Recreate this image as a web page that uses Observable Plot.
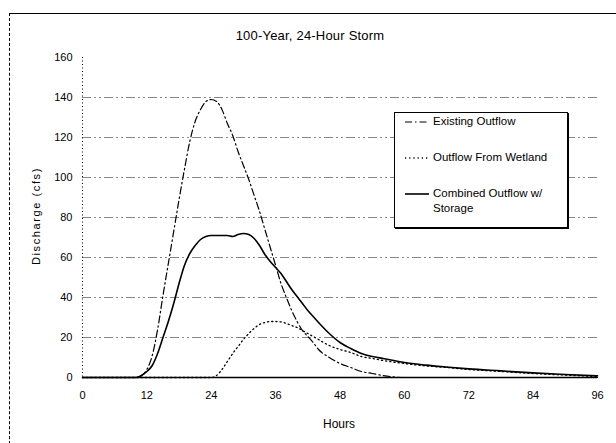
<!DOCTYPE html>
<html>
<head>
<meta charset="utf-8">
<script src="https://cdn.jsdelivr.net/npm/d3@7"></script>
<script src="https://cdn.jsdelivr.net/npm/@observablehq/plot@0.6"></script>
<style>
  html, body { margin: 0; padding: 0; background: #fff; }
  #wrap { position: relative; width: 616px; height: 443px; overflow: hidden; background: #fff;
          font-family: "Liberation Sans", Arial, sans-serif; color: #000; }
  #wrap svg.plot { position: absolute; left: 0; top: 0; }
  .abs { position: absolute; white-space: nowrap; }
</style>
</head>
<body>
<div id="wrap"></div>
<script>
// ---- data ----
const title = "100-Year, 24-Hour Storm";
const xLabel = "Hours";
const yLabel = "Discharge (cfs)";
const xTicks = [0, 12, 24, 36, 48, 60, 72, 84, 96];
const yTicks = [0, 20, 40, 60, 80, 100, 120, 140, 160];
const gridValues = [20, 40, 60, 80, 100, 120, 140];
const seriesNames = ["Existing Outflow", "Outflow From Wetland", "Combined Outflow w/ Storage"];

const hours = [0, 6, 10, 11, 12, 13, 14, 15, 16, 17, 18, 19, 20, 21, 22, 23, 24, 25, 26, 27, 28, 29, 30, 31, 32, 33, 34, 35, 36, 37, 38, 39, 40, 41, 42, 43, 44, 46, 48, 50, 52, 54, 56, 58, 60, 64, 68, 72, 78, 84, 90, 96];
const existingOutflow = [0, 0, 0, 1, 4, 11, 24, 41, 57, 73, 89, 104, 118, 128, 134, 138, 139, 138, 134, 127, 121, 113, 106, 99, 91, 83, 74, 65, 56, 47, 40, 33.5, 28, 23.5, 20.5, 17.5, 14, 10, 7, 5, 3, 2, 1, 0.3, 0, 0, 0, 0, 0, 0, 0, 0];
const wetlandOutflow = [0, 0, 0, 0, 0, 0, 0, 0, 0, 0, 0, 0, 0, 0, 0, 0, 0, 1, 4, 8, 12, 15.5, 19, 22, 24.5, 26.5, 27.5, 28, 28, 27.8, 27, 26, 25, 23.5, 22, 20.5, 19, 16, 14, 12.5, 10.5, 9.5, 8.5, 7.7, 7, 5.8, 5, 4, 3, 2, 1.2, 0.5];
const combinedOutflow = [0, 0, 0, 1, 3, 6, 12, 20, 28, 37, 47, 56, 62, 66, 69, 70.5, 71, 71, 71, 71, 70.5, 71.5, 72, 71.5, 69.5, 66, 61.5, 58, 55, 52, 48, 44, 40.5, 37, 33.5, 30.5, 27.5, 22, 17.5, 14.5, 12, 10.5, 9.5, 8.5, 7.5, 6.2, 5.2, 4.3, 3.3, 2.3, 1.5, 0.8];

// ---- build table ----
const valueArrays = [existingOutflow, wetlandOutflow, combinedOutflow];
const dashes = ["7,3,1.5,3", "1.2,3", null];
const widths = [1.2, 1.3, 1.6];
const rows = [];
seriesNames.forEach((name, i) => {
  hours.forEach((h, j) => rows.push({series: name, h, v: valueArrays[i][j]}));
});

const lineMarks = seriesNames.map((name, i) =>
  Plot.line(rows.filter(d => d.series === name), {
    x: "h", y: "v", stroke: "#000", strokeWidth: widths[i],
    strokeDasharray: dashes[i] || undefined, curve: "monotone-x"
  })
);

const chart = Plot.plot({
  width: 616, height: 443,
  marginLeft: 82, marginRight: 19, marginTop: 57, marginBottom: 66,
  style: {fontFamily: "'Liberation Sans', Arial, sans-serif", fontSize: "11px", color: "#000", background: "transparent"},
  x: {domain: [0, 96]},
  y: {domain: [0, 160]},
  marks: [
    Plot.ruleY(gridValues, {stroke: "#222", strokeWidth: 1, strokeOpacity: 0.55, strokeDasharray: "9,3,2,3,2,3"}),
    Plot.ruleX([0], {stroke: "#000", strokeWidth: 1, strokeDasharray: "1,2.5"}),
    Plot.ruleY([0], {stroke: "#000", strokeWidth: 1.4}),
    Plot.axisX({ticks: xTicks, tickSize: 0, tickPadding: 14, label: null, fontSize: 11}),
    Plot.axisY({ticks: yTicks, tickSize: 0, tickPadding: 10, label: null, fontSize: 11}),
    ...lineMarks
  ]
});

const wrap = document.getElementById("wrap");

// outer frame (top and left edges visible)
const frame = document.createElement("div");
frame.className = "abs";
Object.assign(frame.style, {left: "9px", top: "13px", width: "640px", height: "460px",
  borderTop: "1px solid #000", borderLeft: "1px dashed #000"});
wrap.appendChild(frame);

wrap.appendChild(chart);

// title
const t = document.createElement("div");
t.className = "abs";
t.textContent = title;
Object.assign(t.style, {left: "160px", width: "300px", textAlign: "center", top: "28px", fontSize: "13px", letterSpacing: "0.2px"});
wrap.appendChild(t);

// x label
const xl = document.createElement("div");
xl.className = "abs";
xl.textContent = xLabel;
Object.assign(xl.style, {left: "289px", width: "100px", textAlign: "center", top: "417px", fontSize: "12px"});
wrap.appendChild(xl);

// y label
const yl = document.createElement("div");
yl.className = "abs";
yl.textContent = yLabel;
Object.assign(yl.style, {left: "-23px", width: "120px", textAlign: "center", top: "209px", fontSize: "11px",
  letterSpacing: "1.6px", transform: "rotate(-90deg)", transformOrigin: "60px 7px"});
wrap.appendChild(yl);

// legend
const lg = document.createElement("div");
lg.className = "abs";
Object.assign(lg.style, {left: "394px", top: "112px", width: "172px", height: "114px",
  border: "1px solid #000", boxShadow: "1px 1px 0 #000", background: "#fff", fontSize: "11.5px"});
wrap.appendChild(lg);
const legendRows = [
  {lines: ["Existing Outflow"], y: 9},
  {lines: ["Outflow From Wetland"], y: 45},
  {lines: ["Combined Outflow w/", "Storage"], y: 81}
];
legendRows.forEach((r, i) => {
  const sw = document.createElementNS("http://www.w3.org/2000/svg", "svg");
  sw.setAttribute("width", "26"); sw.setAttribute("height", "6");
  sw.style.position = "absolute"; sw.style.left = "10px"; sw.style.top = (r.y - 3) + "px";
  const ln = document.createElementNS("http://www.w3.org/2000/svg", "line");
  ln.setAttribute("x1", "0"); ln.setAttribute("x2", "24"); ln.setAttribute("y1", "3"); ln.setAttribute("y2", "3");
  ln.setAttribute("stroke", "#000"); ln.setAttribute("stroke-width", widths[i]);
  if (dashes[i]) ln.setAttribute("stroke-dasharray", dashes[i]);
  sw.appendChild(ln);
  lg.appendChild(sw);
  r.lines.forEach((txt, k) => {
    const s = document.createElement("div");
    s.className = "abs";
    s.textContent = txt;
    Object.assign(s.style, {left: "38px", top: (r.y - 7 + k * 15) + "px"});
    lg.appendChild(s);
  });
});
</script>
</body>
</html>
